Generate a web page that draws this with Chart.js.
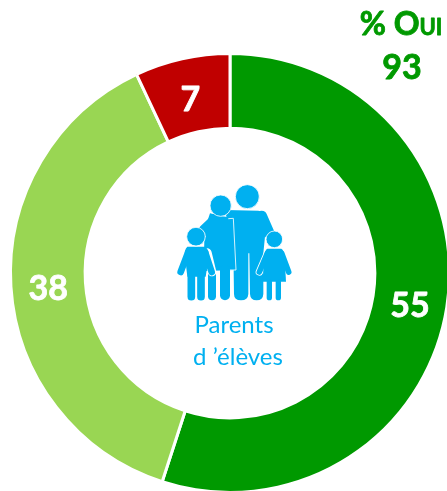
<!DOCTYPE html>
<html><head><meta charset="utf-8">
<script src="https://cdn.jsdelivr.net/npm/chart.js@4"></script>
<style>html,body{margin:0;padding:0;background:#fff;overflow:hidden;width:447px;height:491px}
#w{position:absolute;left:0;top:0;width:460px;height:494px}</style>
</head><body><div id="w"><canvas id="c" width="460" height="494"></canvas></div>
<script>
const categories = ["Oui, tout à fait", "Oui, plutôt", "Non"];
const seriesValues = [55, 38, 7];
const sliceColors = ["#009900", "#99D653", "#C00000"];
const titleLines = ["% Oui", "93"];
const centerLines = ["Parents", "d \u2019élèves"];
const BLUE = "#00B0F0";

function limb(ctx, w, pts){
  ctx.lineWidth = w; ctx.lineCap = "round"; ctx.lineJoin = "round"; ctx.strokeStyle = BLUE;
  ctx.beginPath(); pts.forEach((p,i)=> i?ctx.lineTo(p[0],p[1]):ctx.moveTo(p[0],p[1])); ctx.stroke();
}
function disc(ctx,x,y,r){ctx.fillStyle=BLUE;ctx.strokeStyle="#fff";ctx.lineWidth=2.5;ctx.beginPath();ctx.arc(x,y,r,0,7);ctx.fill();ctx.stroke();}
function shape(ctx,d){const p=new Path2D(d);ctx.fillStyle=BLUE;ctx.fill(p);}
function gap(ctx,w,pts){ctx.lineWidth=w;ctx.strokeStyle="#fff";ctx.lineCap="round";ctx.lineJoin="round";ctx.beginPath();pts.forEach((p,i)=>i?ctx.lineTo(p[0],p[1]):ctx.moveTo(p[0],p[1]));ctx.stroke();}
function heavyText(ctx,t,x,y,color,w){ctx.fillStyle=color;ctx.strokeStyle=color;ctx.lineWidth=w;ctx.lineJoin="round";ctx.fillText(t,x,y);ctx.strokeText(t,x,y);}

function drawFamily(ctx){
  ctx.save(); ctx.translate(150,170); ctx.scale(1/3,1/3);
  // man
  limb(ctx,32,[[335,138],[358,190]]);
  shape(ctx,"M225,120 L325,122 Q345,126 350,150 L340,250 L340,372 Q339,391 320,391 Q301,391 300,372 L298,250 L295,250 L295,372 Q294,391 273,391 Q252,391 252,372 L250,240 Z");
  disc(ctx,292,80,36);
  // woman
  limb(ctx,26,[[195,145],[160,178]]);
  shape(ctx,"M180,130 Q215,140 245,143 Q258,210 258,300 L165,303 Q160,230 165,175 Z");
  gap(ctx,2.5,[[236,146],[250,145],[258,300],[240,300]]);
  limb(ctx,24,[[186,300],[186,379]]);
  limb(ctx,30,[[225,300],[225,376]]);
  disc(ctx,212,107,32);
  // left child
  gap(ctx,26,[[172,248],[186,306]]);
  limb(ctx,20,[[114,248],[92,306]]);
  limb(ctx,20,[[166,248],[185,306]]);
  shape(ctx,"M112,230 L165,230 Q178,238 176,260 L167,320 L112,320 L105,260 Q102,238 112,230 Z");
  limb(ctx,23,[[124,320],[124,380]]);
  limb(ctx,23,[[153,320],[153,380]]);
  disc(ctx,138,200,28);
  // right child
  gap(ctx,22,[[352,250],[328,306]]);
  limb(ctx,17,[[352,250],[328,306]]);
  limb(ctx,17,[[395,250],[416,306]]);
  shape(ctx,"M352,236 L394,236 Q402,240 404,262 L408,335 L338,335 L342,262 Q344,240 352,236 Z");
  limb(ctx,16,[[358,335],[358,383]]);
  limb(ctx,16,[[385,335],[385,383]]);
  disc(ctx,373,208,25);
  ctx.restore();
}

const overlay = {
  id:"overlay",
  afterDatasetsDraw(chart){
    const ctx = chart.ctx;
    ctx.save();
    ctx.textAlign="center"; ctx.textBaseline="middle";
    ctx.font='bold 34px Lato';
    chart.getDatasetMeta(0).data.forEach((a,i)=>{
      const p=a.tooltipPosition();
      heavyText(ctx,String(seriesValues[i]),p.x,p.y+5,"#fff",0.8);
    });
    ctx.font='small-caps bold 32px Lato';
    heavyText(ctx,titleLines[0],401,25,"#009900",0.8);
    ctx.font='bold 34px Lato';
    heavyText(ctx,titleLines[1],402,68,"#009900",0.8);
    ctx.fillStyle=BLUE; ctx.font='24px Lato';
    ctx.fillText(centerLines[0],234,325);
    ctx.fillText(centerLines[1],238,357);
    drawFamily(ctx);
    ctx.restore();
  }
};

new Chart(document.getElementById("c"),{
  type:"doughnut",
  data:{labels:categories,datasets:[{data:seriesValues,backgroundColor:sliceColors,borderColor:"#fff",borderWidth:3}]},
  options:{responsive:false,animation:false,cutout:"66%",
    layout:{padding:{left:9,right:9,top:52,bottom:0}},
    plugins:{legend:{display:false},tooltip:{enabled:false},title:{display:false}}},
  plugins:[overlay]
});
</script></body></html>
